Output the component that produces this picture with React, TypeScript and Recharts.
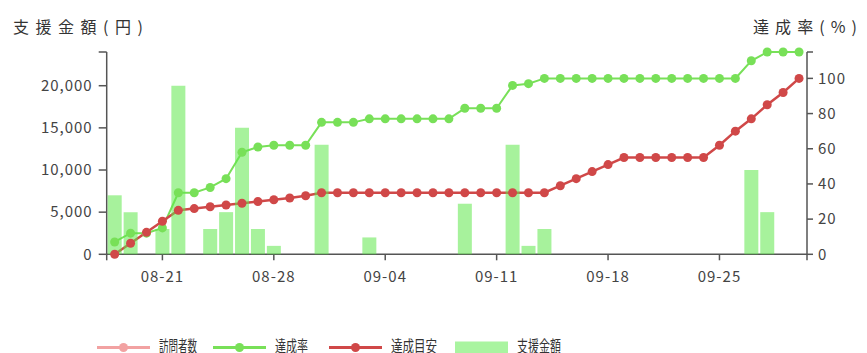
import React from 'react';
import { ComposedChart, Line, Bar, XAxis, YAxis } from 'recharts';

// Daily dates of the campaign (08-18 .. 09-30)
const dates = [
  '08-18', '08-19', '08-20', '08-21', '08-22', '08-23', '08-24', '08-25', '08-26', '08-27',
  '08-28', '08-29', '08-30', '08-31', '09-01', '09-02', '09-03', '09-04', '09-05', '09-06',
  '09-07', '09-08', '09-09', '09-10', '09-11', '09-12', '09-13', '09-14', '09-15', '09-16',
  '09-17', '09-18', '09-19', '09-20', '09-21', '09-22', '09-23', '09-24', '09-25', '09-26',
  '09-27', '09-28', '09-29', '09-30',
];

// 支援金額 (円) per day
const supportYen = [
  7000, 5000, 0, 3000, 20000, 0, 3000, 5000, 15000, 3000,
  1000, 0, 0, 13000, 0, 0, 2000, 0, 0, 0,
  0, 0, 6000, 0, 0, 13000, 1000, 3000, 0, 0,
  0, 0, 0, 0, 0, 0, 0, 0, 0, 0,
  10000, 5000, 0, 0,
];

// 達成率 (%)
const achievementRate = [
  7, 12, 12, 15, 35, 35, 38, 43, 58, 61,
  62, 62, 62, 75, 75, 75, 77, 77, 77, 77,
  77, 77, 83, 83, 83, 96, 97, 100, 100, 100,
  100, 100, 100, 100, 100, 100, 100, 100, 100, 100,
  110, 115, 115, 115,
];

// 達成目安 (%)
const targetRate = [
  0, 6.3, 12.5, 18.8, 25, 26, 27, 28, 29, 30,
  31, 32, 33.3, 35, 35, 35, 35, 35, 35, 35,
  35, 35, 35, 35, 35, 35, 35, 35, 39, 43,
  47, 51, 55, 55, 55, 55, 55, 55, 62, 70,
  77, 85, 92, 100,
];

const xTickIndexes = [3, 10, 17, 24, 31, 38];
const yenTicks = [0, 5000, 10000, 15000, 20000];
const rateTicks = [0, 20, 40, 60, 80, 100];
const YEN_MAX = 24000;
const RATE_MAX = 115;
const X_MIN = -0.5;
const X_MAX = dates.length - 0.5;

const legendItems = [
  { name: '訪問者数', kind: 'line', color: '#f2a2a2' },
  { name: '達成率', kind: 'line', color: '#78e058' },
  { name: '達成目安', kind: 'line', color: '#d04848' },
  { name: '支援金額', kind: 'bar', color: '#a9f4a0' },
];

const data = dates.map((date, i) => ({
  i,
  date,
  support: supportYen[i],
  rate: achievementRate[i],
  target: targetRate[i],
}));

const FONT = '"Noto Sans CJK JP", "Noto Sans", sans-serif';
const AXIS = '#555';
const TEXT = '#444';
const GREEN = '#78e058';
const RED = '#d04848';

const tickStyle = { fill: TEXT, fontSize: 15, fontFamily: FONT, letterSpacing: 1 };

// Legend layout: icon start, text start, text width
const legendLayout = [
  { x: 97, tx: 159, tw: 38 },
  { x: 213, tx: 275, tw: 33 },
  { x: 329, tx: 391, tw: 46 },
  { x: 455, tx: 517, tw: 44 },
];

function Overlay() {
  const ly = 347.5;
  return (
    <svg
      width={867}
      height={353}
      style={{ position: 'absolute', left: 0, top: 0, pointerEvents: 'none' }}
    >
      <text
        x={13}
        y={26}
        fontSize={16}
        fontFamily={FONT}
        fill="#333"
        dominantBaseline="central"
        textLength={130}
        lengthAdjust="spacing"
      >
        支援金額(円)
      </text>
      <text
        x={753}
        y={26}
        fontSize={16}
        fontFamily={FONT}
        fill="#333"
        dominantBaseline="central"
        textLength={104}
        lengthAdjust="spacing"
      >
        達成率(%)
      </text>
      {legendItems.map((it, k) => {
        const p = legendLayout[k];
        return (
          <g key={it.name}>
            {it.kind === 'line' ? (
              <g>
                <line x1={p.x} x2={p.x + 53} y1={ly} y2={ly} stroke={it.color} strokeWidth={3} />
                <circle cx={p.x + 26.5} cy={ly} r={4.5} fill={it.color} />
              </g>
            ) : (
              <rect x={p.x} y={ly - 6} width={53} height={14} fill={it.color} />
            )}
            <text
              x={p.tx}
              y={351.5}
              fontSize={15.5}
              fontFamily={FONT}
              fill="#333"
              textLength={p.tw}
              lengthAdjust="spacingAndGlyphs"
            >
              {it.name}
            </text>
          </g>
        );
      })}
    </svg>
  );
}

export default function App() {
  return (
    <div style={{ position: 'absolute', left: 0, top: 0, width: 867, height: 353, background: '#fff' }}>
      <ComposedChart
        width={867}
        height={353}
        data={data}
        margin={{ top: 52, right: 10, left: 46.7, bottom: 68.7 }}
      >
        <XAxis
          dataKey="i"
          type="number"
          domain={[X_MIN, X_MAX]}
          ticks={[X_MIN, ...xTickIndexes, X_MAX]}
          interval={0}
          tickFormatter={(v: number) => (Number.isInteger(v) ? dates[v] : '')}
          tick={tickStyle}
          tickSize={6}
          tickMargin={11}
          height={30}
          axisLine={{ stroke: AXIS, strokeWidth: 1.5 }}
          tickLine={{ stroke: AXIS, strokeWidth: 1.5 }}
        />
        <YAxis
          yAxisId="yen"
          domain={[0, YEN_MAX]}
          ticks={[...yenTicks, YEN_MAX]}
          interval={0}
          tickFormatter={(v: number) => (v === YEN_MAX ? '' : v.toLocaleString('en-US'))}
          tick={tickStyle}
          tickSize={8}
          tickMargin={6}
          width={60}
          axisLine={{ stroke: AXIS, strokeWidth: 1.5 }}
          tickLine={{ stroke: AXIS, strokeWidth: 1.5 }}
        />
        <YAxis
          yAxisId="rate"
          orientation="right"
          domain={[0, RATE_MAX]}
          ticks={[...rateTicks, RATE_MAX]}
          interval={0}
          tickFormatter={(v: number) => (v === RATE_MAX ? '' : String(v))}
          tick={tickStyle}
          tickSize={6}
          tickMargin={5}
          width={50}
          axisLine={{ stroke: AXIS, strokeWidth: 1.5 }}
          tickLine={{ stroke: AXIS, strokeWidth: 1.5 }}
        />
        <Line
          yAxisId="rate"
          type="linear"
          dataKey="rate"
          stroke={GREEN}
          strokeWidth={2}
          dot={{ r: 4.5, fill: GREEN, stroke: GREEN, strokeWidth: 0 }}
          activeDot={false}
          isAnimationActive={false}
        />
        <Line
          yAxisId="rate"
          type="linear"
          dataKey="target"
          stroke={RED}
          strokeWidth={2.5}
          dot={{ r: 4.5, fill: RED, stroke: RED, strokeWidth: 0 }}
          activeDot={false}
          isAnimationActive={false}
        />
        <Bar
          yAxisId="yen"
          dataKey="support"
          fill="#5ee84a"
          fillOpacity={0.55}
          barSize={14}
          zIndex={500}
          isAnimationActive={false}
        />
      </ComposedChart>
      <Overlay />
    </div>
  );
}
